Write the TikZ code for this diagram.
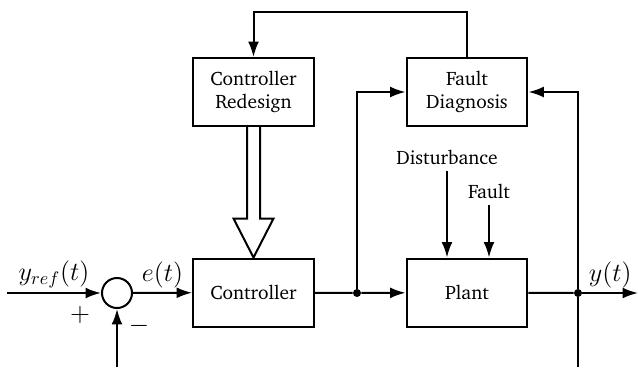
\documentclass[tikz,border=0pt]{standalone}
\usepackage[T1]{fontenc}
\renewcommand{\rmdefault}{bch}
\usetikzlibrary{positioning, arrows.meta, calc}

\begin{document}
\begin{tikzpicture}[
    x=0.55pt, y=-0.55pt,
    font=\fontsize{10.7}{13}\selectfont,
    block/.style={
        rectangle,
        draw,
        line width=1.1pt,
        minimum width=66.5pt,
        minimum height=37.4pt,
        inner sep=0pt,
        align=center
    },
    sumnode/.style={circle, draw, line width=1.1pt, minimum size=16.5pt, inner sep=0pt},
    dot/.style={circle, fill, minimum size=4.4pt, inner sep=0pt},
    mlabel/.style={font=\Large, inner sep=2pt},
    wire/.style={line width=1.1pt},
    sig/.style={-{Latex[length=8.5pt, width=6pt]}, line width=1.1pt}
]
\useasboundingbox (0,0) rectangle (638,367);

% Blocks
\node[block] (red)   at (253.5, 92)  {Controller\\Redesign};
\node[block] (fd)    at (467, 92)    {Fault\\Diagnosis};
\node[block] (ctrl)  at (253.5, 292.5) {Controller};
\node[block] (plant) at (467, 292.5) {Plant};

% Summing point, branch points, free ends
\node[sumnode] (sum) at (117, 293) {};
\node[dot] (j1) at (357, 293) {};
\node[dot] (j2) at (578, 293) {};
\coordinate (in)  at (7, 293);
\coordinate (out) at (638, 293);
\coordinate (fbl) at (117, 367);
\coordinate (fbr) at (578, 367);
\coordinate (top) at (467, 12);

% Inputs to the plant
\node (dist) at (447, 157) {Disturbance};
\node (flt)  at (489, 191) {Fault};

\node[mlabel] (plus)  at (80, 315)  {$+$};
\node[mlabel] (minus) at (139, 326) {$-$};

% Main loop
\draw[sig] (in) -- node[mlabel, above] {$y_{ref}(t)$} (sum);
\draw[sig] (sum) -- node[mlabel, above] {$e(t)$} (ctrl);
\draw[sig] (fbl) -- (sum);
\draw[wire] (ctrl) -- (j1);
\draw[sig] (j1) -- (plant);
\draw[wire] (plant) -- (j2);
\draw[sig] (j2) -- node[mlabel, above] {$y(t)$} (out);
\draw[wire] (j2) -- (fbr);

% Diagnosis and redesign
\draw[sig] (j1) |- (fd);
\draw[sig] (j2) |- (fd);
\draw[sig] (fd.north) -- (top) -| (red.north);
\draw[wire] ($(red.south)+(-6.5,0)$) -- ($(ctrl.north)+(-6.5,-39)$) -- ++(-13.5,0)
    -- (ctrl.north) -- ($(ctrl.north)+(20,-39)$) -- ++(-13.5,0) -- ($(red.south)+(6.5,0)$);

\draw[sig] (dist) -- (dist |- plant.north);
\draw[sig] (flt) -- (flt |- plant.north);

\end{tikzpicture}
\end{document}
